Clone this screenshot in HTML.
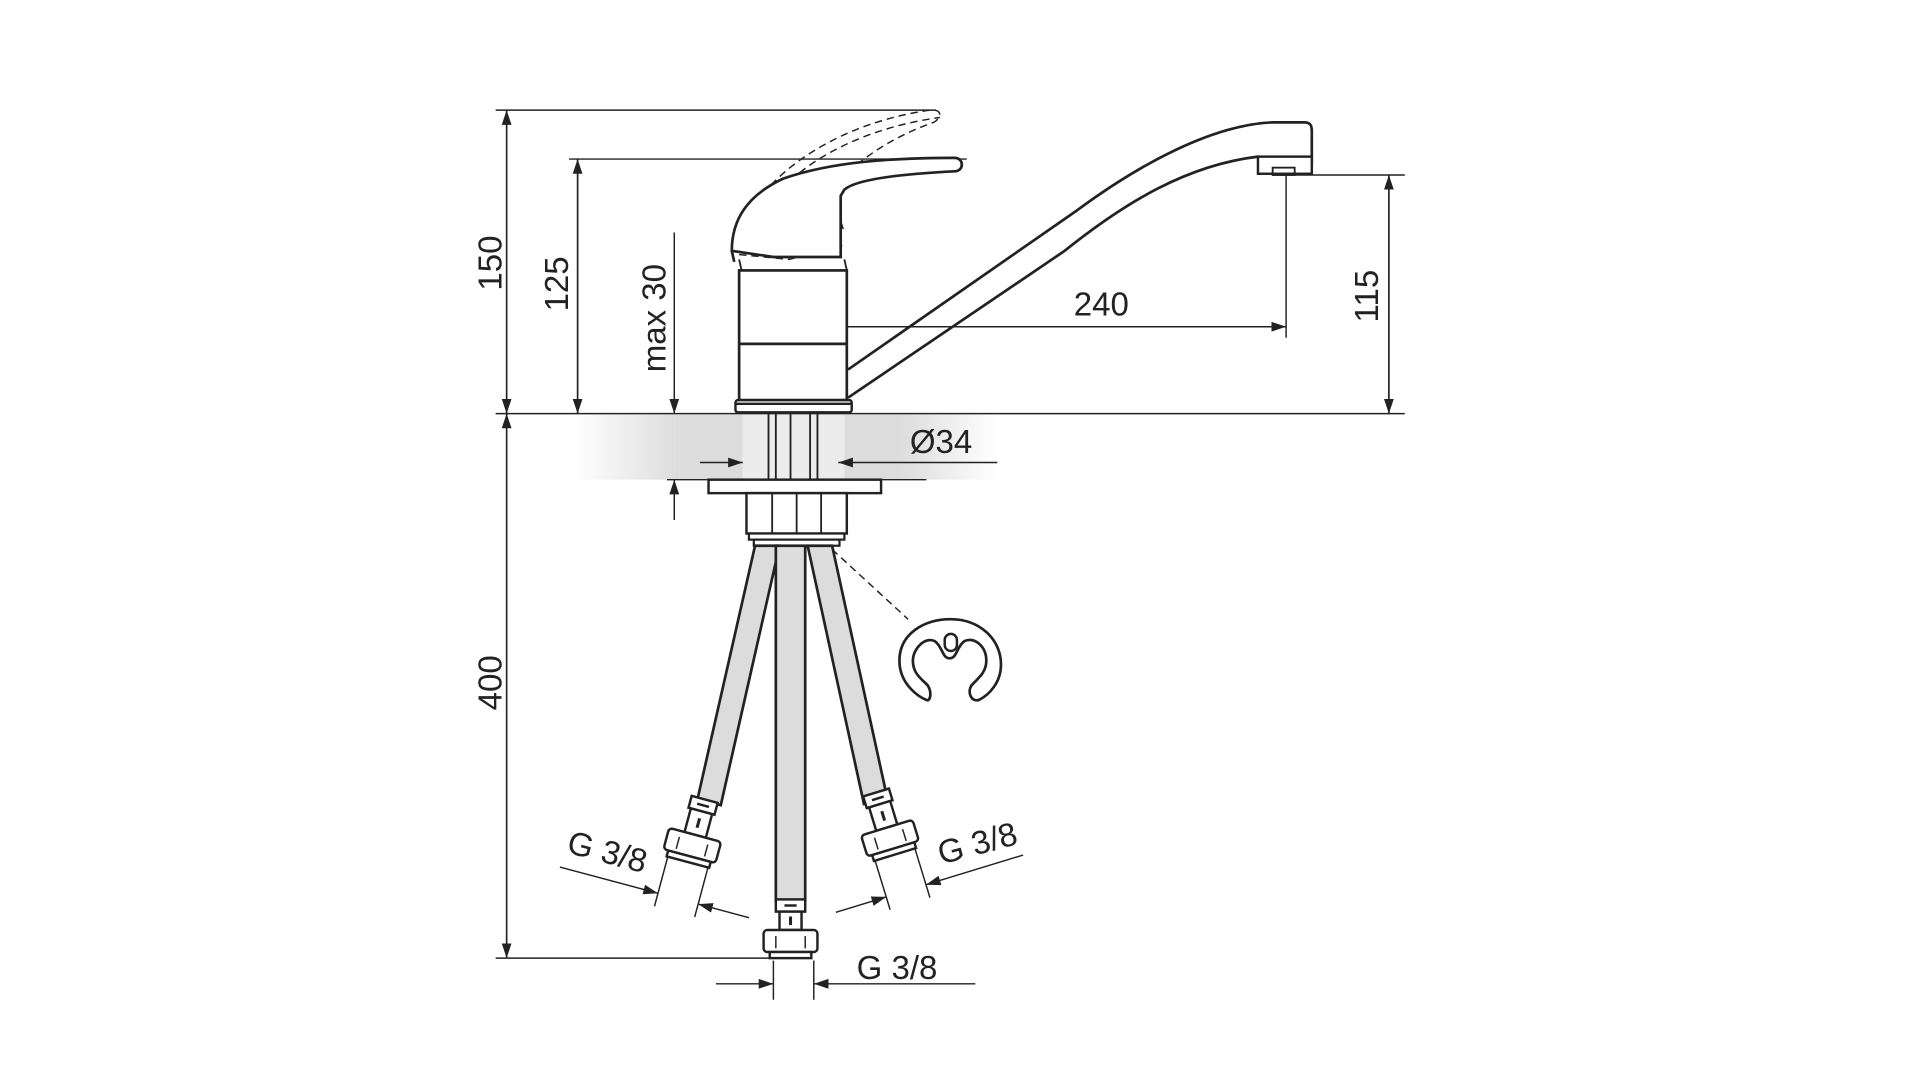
<!DOCTYPE html>
<html><head><meta charset="utf-8"><style>
html,body{margin:0;padding:0;background:#fff;}
svg{display:block;}
text{font-family:"Liberation Sans",sans-serif;fill:#222;}
</style></head><body>
<svg width="1920" height="1080" viewBox="0 0 1569 882.6" xmlns="http://www.w3.org/2000/svg">
<defs>
<marker id="a" viewBox="0 0 12 8" refX="12" refY="4" markerWidth="12" markerHeight="8" markerUnits="userSpaceOnUse" orient="auto"><path d="M0,0 L12,4 L0,8 Z" fill="#222"/></marker>
<linearGradient id="gl" x1="0" x2="1" y1="0" y2="0"><stop offset="0" stop-color="#fff"/><stop offset="1" stop-color="#dcdcdc"/></linearGradient>
<linearGradient id="gr" x1="0" x2="1" y1="0" y2="0"><stop offset="0" stop-color="#dcdcdc"/><stop offset="1" stop-color="#fff"/></linearGradient>
</defs>
<g stroke="#222" fill="none">
<rect x="470" y="339" width="85" height="53" fill="url(#gl)" stroke="none"/>
<rect x="555" y="339" width="52" height="53" fill="#dcdcdc" stroke="none"/>
<rect x="607" y="339" width="83" height="53" fill="#ececec" stroke="none"/>
<rect x="690" y="339" width="45" height="53" fill="#dcdcdc" stroke="none"/>
<rect x="735" y="339" width="80" height="53" fill="url(#gr)" stroke="none"/>

<g stroke-width="1.2">
<line x1="405" y1="90" x2="765" y2="90"/>
<line x1="405" y1="338" x2="1148" y2="338"/>
<line x1="414" y1="338" x2="414" y2="90" marker-end="url(#a)"/>
<line x1="414" y1="90" x2="414" y2="338" marker-end="url(#a)"/>
<line x1="465" y1="130" x2="790" y2="130"/>
<line x1="472" y1="338" x2="472" y2="130" marker-end="url(#a)"/>
<line x1="472" y1="130" x2="472" y2="338" marker-end="url(#a)"/>
<line x1="551" y1="190" x2="551" y2="338" marker-end="url(#a)"/>
<line x1="551" y1="425" x2="551" y2="392" marker-end="url(#a)"/>
<line x1="545" y1="392" x2="757" y2="392"/>
<line x1="414" y1="338" x2="414" y2="783" marker-end="url(#a)"/>
<line x1="414" y1="783" x2="414" y2="338" marker-end="url(#a)"/>
<line x1="405" y1="783" x2="630" y2="783"/>
<line x1="1040" y1="143" x2="1148" y2="143"/>
<line x1="1135" y1="338" x2="1135" y2="143" marker-end="url(#a)"/>
<line x1="1135" y1="143" x2="1135" y2="338" marker-end="url(#a)"/>
<line x1="652" y1="250" x2="652" y2="276"/>
<line x1="1051" y1="143" x2="1051" y2="276"/>
<line x1="1051" y1="267" x2="652" y2="267" marker-end="url(#a)"/>
<line x1="652" y1="267" x2="1051" y2="267" marker-end="url(#a)"/>
<line x1="572" y1="378" x2="607" y2="378" marker-end="url(#a)"/>
<line x1="815" y1="378" x2="685" y2="378" marker-end="url(#a)"/>
<line x1="632" y1="785" x2="632" y2="817"/>
<line x1="665" y1="785" x2="665" y2="817"/>
<line x1="585" y1="804" x2="632" y2="804" marker-end="url(#a)"/>
<line x1="797" y1="804" x2="665" y2="804" marker-end="url(#a)"/>
</g>

<g stroke-width="1.2" stroke-dasharray="6,4">
<path d="M612,175 C635,135 690,100 760,90 C770,89 770,96 763,100 C720,115 690,140 676,160"/>
<path d="M632,162 C660,128 710,104 768,96"/>
<path d="M678,153 L690,190"/>
<path d="M604,208 L645,212 L690,200"/>
</g>
<path stroke-width="2.2" fill="#fff" d="M598,205 C598,180 610,160 640,146 C680,132 730,129 780,129 C788,129 788,140 780,140 C740,142 700,146 690,155 L687,160 L687,210 L632,210 Z"/>
<path stroke-width="2.2" d="M598,205 L600,214"/>
<rect x="604" y="221" width="88" height="106" stroke-width="2.2" fill="#fff"/>
<line x1="604" y1="281" x2="692" y2="281" stroke-width="2.2"/>
<line x1="604" y1="212" x2="606" y2="221" stroke-width="1.5"/>
<line x1="690" y1="212" x2="692" y2="221" stroke-width="1.5"/>
<rect x="601" y="327" width="95" height="10" rx="2" stroke-width="2" fill="#fff"/>
<line x1="601" y1="330" x2="696" y2="330" stroke-width="2"/>
<path stroke-width="2.2" d="M693,302 L880,172 C930,135 990,102 1040,100 L1066,100 C1072,100 1072,104 1072,108 L1072,134 L1050,134"/>
<path stroke-width="2.2" d="M693,325 L870,205 C920,165 970,135 1028,128"/>
<rect x="1028" y="128" width="44" height="14" stroke-width="2" fill="#fff"/>
<rect x="1040" y="137" width="18" height="6" stroke-width="1.5"/>

<g stroke-width="1.5">
<line x1="628" y1="338" x2="628" y2="392"/><line x1="634" y1="338" x2="634" y2="392"/>
<line x1="646" y1="338" x2="646" y2="392"/>
<line x1="662" y1="338" x2="662" y2="392"/><line x1="668" y1="338" x2="668" y2="392"/>
</g>
<rect x="579" y="392" width="141" height="11" stroke-width="2" fill="#fff"/>
<rect x="610" y="403" width="82" height="33" stroke-width="2" fill="#fff"/>
<line x1="631" y1="403" x2="631" y2="436" stroke-width="1.5"/>
<line x1="651" y1="403" x2="651" y2="436" stroke-width="1.5"/>
<line x1="671" y1="403" x2="671" y2="436" stroke-width="1.5"/>
<rect x="612" y="436" width="78" height="5" stroke-width="1.8" fill="#fff"/>
<rect x="616" y="441" width="70" height="5" stroke-width="1.8" fill="#fff"/>

<polygon points="617,446 637,446 589,658 570,653" fill="#dcdcdc" stroke-width="2.2"/>
<polygon points="660,446 680,446 725,652 706,657" fill="#dcdcdc" stroke-width="2.2"/>
<rect x="634" y="446" width="24" height="290" fill="#dcdcdc" stroke-width="2.2"/>

<g transform="translate(566,690) rotate(15)" stroke-width="2" fill="#fff">
<rect x="-11" y="-38" width="22" height="10"/><line x1="-5" y1="-33" x2="5" y2="-33"/>
<rect x="-9" y="-28" width="18" height="20"/><line x1="0" y1="-22" x2="0" y2="-14" stroke-width="2.5"/>
<rect x="-22" y="-8" width="44" height="18" rx="3"/>
<line x1="-12" y1="-3" x2="-12" y2="7" stroke-width="1.2"/><line x1="12" y1="-3" x2="12" y2="7" stroke-width="1.2"/>
<rect x="-18" y="10" width="36" height="5"/>
<g stroke-width="1.2" fill="none">
<line x1="-17" y1="15" x2="-17" y2="57"/><line x1="17" y1="15" x2="17" y2="57"/>
<line x1="-100" y1="46" x2="-17" y2="46" marker-end="url(#a)"/>
<line x1="60" y1="46" x2="17" y2="46" marker-end="url(#a)"/>
</g>
</g>
<g transform="translate(727,684) rotate(-17)" stroke-width="2" fill="#fff">
<rect x="-11" y="-38" width="22" height="10"/><line x1="-5" y1="-33" x2="5" y2="-33"/>
<rect x="-9" y="-28" width="18" height="20"/><line x1="0" y1="-22" x2="0" y2="-14" stroke-width="2.5"/>
<rect x="-22" y="-8" width="44" height="18" rx="3"/>
<line x1="-12" y1="-3" x2="-12" y2="7" stroke-width="1.2"/><line x1="12" y1="-3" x2="12" y2="7" stroke-width="1.2"/>
<rect x="-18" y="10" width="36" height="5"/>
<g stroke-width="1.2" fill="none">
<line x1="-17" y1="15" x2="-17" y2="57"/><line x1="17" y1="15" x2="17" y2="57"/>
<line x1="-60" y1="46" x2="-17" y2="46" marker-end="url(#a)"/>
<line x1="100" y1="46" x2="17" y2="46" marker-end="url(#a)"/>
</g>
</g>
<g transform="translate(646,768)" stroke-width="2" fill="#fff">
<rect x="-12" y="-33" width="24" height="10"/><line x1="-5" y1="-28" x2="5" y2="-28"/>
<rect x="-9" y="-23" width="18" height="15"/><line x1="0" y1="-19" x2="0" y2="-12" stroke-width="2.5"/>
<rect x="-22" y="-8" width="44" height="18" rx="3"/>
<line x1="-12" y1="-3" x2="-12" y2="7" stroke-width="1.2"/><line x1="12" y1="-3" x2="12" y2="7" stroke-width="1.2"/>
<rect x="-17" y="10" width="34" height="5"/>
</g>

<line x1="680" y1="449" x2="742" y2="506" stroke-width="1.2" stroke-dasharray="6,4"/>
<path stroke-width="2.2" d="M757,572 C752,570 735,560 735,540 C735,518 755,506 777,506 C800,506 818,522 818,543 C818,558 808,568 800,572 C794,574 790,566 794,560 C802,552 806,548 806,540 C806,528 796,520 788,524 C782,528 782,538 776,538 C770,538 770,528 764,524 C756,520 746,530 746,540 C746,550 752,554 758,560 C762,566 760,574 757,572 Z"/>
<rect x="772" y="518" width="10" height="14" rx="5" stroke-width="2"/>
</g>

<g font-size="27">
<text transform="translate(410,215) rotate(-90)" text-anchor="middle">150</text>
<text transform="translate(464,232) rotate(-90)" text-anchor="middle">125</text>
<text transform="translate(544,260) rotate(-90)" text-anchor="middle">max 30</text>
<text transform="translate(410,558) rotate(-90)" text-anchor="middle">400</text>
<text transform="translate(1126,242) rotate(-90)" text-anchor="middle">115</text>
<text x="900" y="258" text-anchor="middle">240</text>
<text x="769" y="370" text-anchor="middle">Ø34</text>
<text x="733" y="800" text-anchor="middle">G 3/8</text>
<text transform="translate(494,705) rotate(15)" text-anchor="middle">G 3/8</text>
<text transform="translate(801,698) rotate(-15)" text-anchor="middle">G 3/8</text>
</g>
</svg>
</body></html>
